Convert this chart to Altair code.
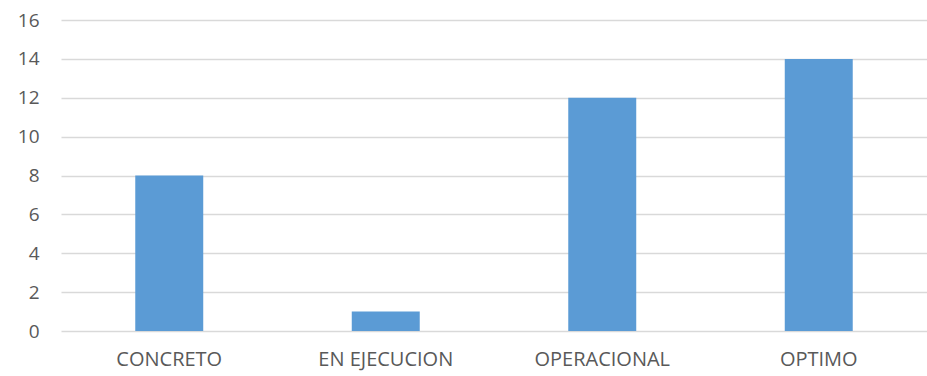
import altair as alt
import pandas as pd

categories = ["CONCRETO", "EN EJECUCION", "OPERACIONAL", "OPTIMO"]
values = [8, 1, 12, 14]
y_ticks = [0, 2, 4, 6, 8, 10, 12, 14, 16]

df = pd.DataFrame({"estado": categories, "cantidad": values})

chart = alt.Chart(df).mark_bar(color="#5B9BD5").encode(
    x=alt.X(
        "estado:N",
        sort=categories,
        title=None,
        scale=alt.Scale(paddingInner=0.686, paddingOuter=0.343),
        axis=alt.Axis(
            labelAngle=0, ticks=False, domain=False, grid=False,
            labelFont="Open Sans", labelFontSize=20, labelColor="#595959",
            labelPadding=18,
        ),
    ),
    y=alt.Y(
        "cantidad:Q",
        title=None,
        scale=alt.Scale(domain=[0, 16], nice=False),
        axis=alt.Axis(
            values=y_ticks, ticks=False, domain=False,
            gridColor="#d9d9d9", gridWidth=1.5,
            labelFont="Open Sans", labelFontSize=19, labelColor="#595959",
            labelPadding=22,
        ),
    ),
).properties(
    width=866,
    height=311,
    padding={"left": 61, "top": 20, "right": 0, "bottom": 45},
    autosize=alt.AutoSizeParams(type="none"),
    background="white",
).configure_view(stroke=None)

chart.save("out.html", embed_options={"renderer": "svg", "actions": False})
